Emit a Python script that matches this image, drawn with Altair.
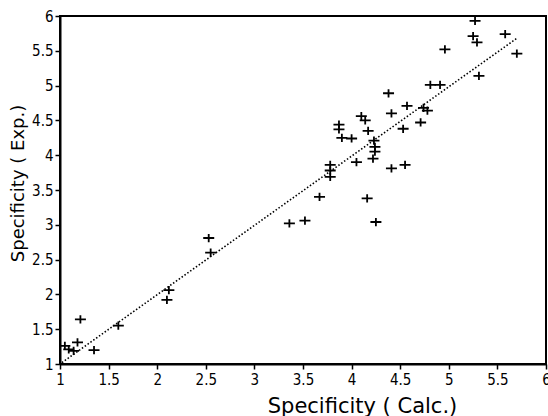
import altair as alt
import pandas as pd

# Specificity: calculated vs experimental
calc = [1.05, 1.09, 1.14, 1.18, 1.21, 1.35, 1.60, 2.10, 2.12, 2.53, 2.55,
        3.36, 3.52, 4.25, 3.67, 4.16, 3.78, 3.78, 3.78, 4.05, 4.22, 4.41,
        4.55, 4.24, 4.24, 4.23, 3.90, 4.00, 4.17, 3.87, 3.87, 4.53, 4.71,
        4.10, 4.14, 4.41, 4.57, 4.74, 4.78, 4.38, 4.81, 4.91, 5.31, 4.96,
        5.70, 5.25, 5.29, 5.58, 5.27]
exp_ = [1.26, 1.21, 1.19, 1.31, 1.64, 1.20, 1.55, 1.92, 2.06, 2.81, 2.60,
        3.02, 3.06, 3.04, 3.40, 3.38, 3.69, 3.78, 3.86, 3.90, 3.95, 3.81,
        3.86, 4.05, 4.12, 4.21, 4.25, 4.24, 4.35, 4.37, 4.44, 4.38, 4.47,
        4.56, 4.50, 4.60, 4.71, 4.68, 4.64, 4.89, 5.01, 5.01, 5.14, 5.52,
        5.46, 5.71, 5.62, 5.74, 5.93]

fit_x = [1.02, 5.70]
fit_y = [1.02, 5.68]

tick_vals = [1, 1.5, 2, 2.5, 3, 3.5, 4, 4.5, 5, 5.5, 6]

pts = pd.DataFrame({"calc": calc, "exp": exp_})
fit = pd.DataFrame({"calc": fit_x, "exp": fit_y})

FONT = "DejaVu Sans Condensed"

xscale = alt.Scale(domain=[1, 6], nice=False, zero=False)
yscale = alt.Scale(domain=[1, 6], nice=False, zero=False)

common_axis = dict(
    values=tick_vals, grid=False, labelOverlap=False,
    labelExpr="format(datum.value, '~g')",
    domainColor="black", domainWidth=2, tickColor="black", tickWidth=1.5,
    tickSize=5, labelColor="black", labelFont=FONT, labelFontSize=15,
    titleFont="DejaVu Sans", titleFontWeight="normal", titleColor="black",
    labelFlush=False,
)

xaxis = alt.Axis(title="Specificity ( Calc.)", labelPadding=3,
                 titleX=302, titleY=48, titleAlign="center",
                 titleFontSize=21, titleBaseline="alphabetic", **common_axis)
yaxis = alt.Axis(title="Specificity ( Exp.)", labelPadding=2,
                 titleX=-42, titleY=167, titleAngle=-90, titleFontSize=18,
                 titleAlign="center", titleBaseline="middle",
                 **common_axis)

X = alt.X("calc:Q", scale=xscale, axis=xaxis)
Y = alt.Y("exp:Q", scale=yscale, axis=yaxis)

line = alt.Chart(fit).mark_line(
    color="black", strokeWidth=1.6, strokeDash=[1.5, 2], clip=True
).encode(x=X, y=Y)

points = alt.Chart(pts).mark_point(
    shape="M-1,0H1M0,-0.75V0.75", size=121, color="black",
    strokeWidth=1.8, filled=False, opacity=1
).encode(x=X, y=Y)

chart = alt.layer(line, points).properties(
    width=486, height=348,
    autosize=alt.AutoSizeParams(type="none"),
    padding={"left": 60, "top": 16, "right": 2, "bottom": 52},
    background="white",
).configure_view(stroke="black", strokeWidth=2)

chart.save("out.html", embed_options={"renderer": "svg", "actions": False})
